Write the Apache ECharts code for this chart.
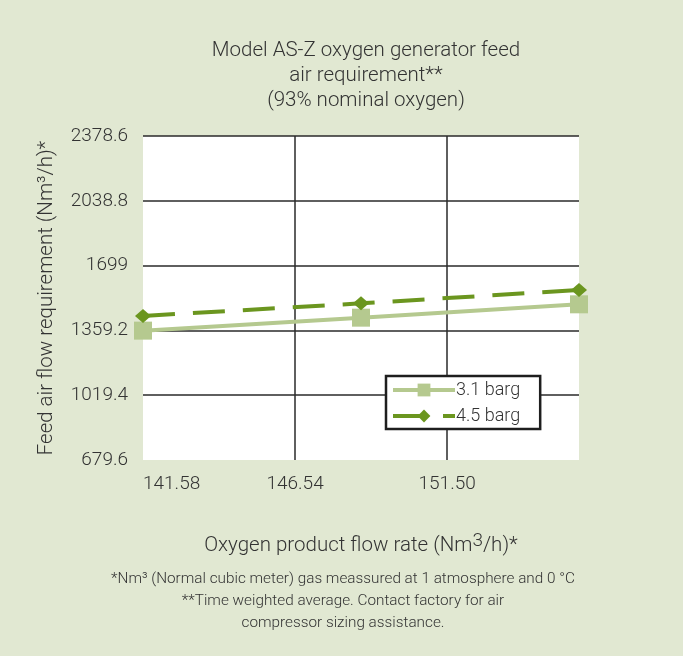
<!DOCTYPE html>
<html>
<head>
<meta charset="utf-8">
<script src="https://cdn.jsdelivr.net/npm/echarts@6/dist/echarts.min.js"></script>
<style>
html,body{margin:0;padding:0;background:#e1e8d2;}
#c{width:683px;height:656px;}
</style>
</head>
<body>
<div id="c"></div>
<script>
// Data
const seriesNames = ['3.1 barg', '4.5 barg'];
const oxygenFlow = [141.58, 148.69, 155.8];
const feedAir31 = [1358, 1426, 1496];
const feedAir45 = [1435, 1501, 1571];
const xTickStart = 141.58, xTickStep = 4.96, xMax = 155.8;
const yTickStart = 679.6, yTickStep = 339.8, yMax = 2378.6;

const FONT = 'Roboto';
const W = 300;
const TXT = '#333';
const chart = echarts.init(document.getElementById('c'));
chart.setOption({
  backgroundColor: '#e1e8d2',
  animation: false,
  textStyle: {fontFamily: FONT, fontWeight: W},
  title: [{
    text: 'Model AS-Z oxygen generator feed\nair requirement**\n(93% nominal oxygen)',
    left: 361, top: 33, textAlign: 'center',
    textStyle: {fontFamily: FONT, fontWeight: W, fontSize: 20.5, lineHeight: 25, color: TXT}
  }, {
    text: '*Nm³ (Normal cubic meter) gas meassured at 1 atmosphere and 0 °C\n**Time weighted average. Contact factory for air\ncompressor sizing assistance.',
    left: 338, top: 563, textAlign: 'center',
    textStyle: {fontFamily: FONT, fontWeight: W, fontSize: 15.3, lineHeight: 22, color: TXT}
  }],
  grid: {left: 143, top: 136, width: 436, height: 324, show: true, backgroundColor: '#ffffff', borderWidth: 0},
  legend: {
    left: 386, top: 376, orient: 'vertical',
    backgroundColor: '#ffffff', borderColor: '#1e1e1e', borderWidth: 2.5, borderRadius: 0,
    padding: [5, 20, 4, 5], itemWidth: 62, itemHeight: 16, itemGap: 8,
    lineStyle: {width: 4},
    textStyle: {fontFamily: FONT, fontWeight: W, fontSize: 18, color: TXT, padding: [0, 0, 0, -4]},
    data: seriesNames
  },
  xAxis: {
    type: 'value', min: xTickStart, max: xMax, interval: xTickStep,
    name: 'Oxygen product flow rate (Nm{s|3}/h)*', nameLocation: 'middle', nameGap: 72,
    nameTextStyle: {fontFamily: FONT, fontWeight: W, fontSize: 20.5, color: TXT,
      rich: {s: {fontFamily: FONT, fontWeight: W, fontSize: 19, color: TXT, padding: [0, 0, 8, 0]}}},
    axisLine: {show: false}, axisTick: {show: false},
    axisLabel: {fontFamily: FONT, fontWeight: W, fontSize: 19, color: TXT, margin: 15, showMaxLabel: false,
      alignMinLabel: 'left', formatter: v => v.toFixed(2)},
    splitLine: {show: true, showMinLine: false, showMaxLine: false, lineStyle: {color: '#2a2a2a', width: 1.5}}
  },
  yAxis: {
    type: 'value', min: yTickStart, max: yMax, interval: yTickStep,
    name: 'Feed air flow requirement (Nm³/h)*', nameLocation: 'middle', nameGap: 86, nameRotate: 90,
    nameTextStyle: {fontFamily: FONT, fontWeight: W, fontSize: 20.5, color: TXT},
    axisLine: {show: false}, axisTick: {show: false},
    axisLabel: {fontFamily: FONT, fontWeight: W, fontSize: 19, color: TXT, margin: 15,
      formatter: v => String(+(+v).toFixed(1))},
    splitLine: {show: true, showMinLine: false, lineStyle: {color: '#2a2a2a', width: 1.5}}
  },
  series: [{
    name: seriesNames[0], type: 'line',
    data: oxygenFlow.map((x, i) => [x, feedAir31[i]]),
    symbol: 'rect', symbolSize: 18,
    lineStyle: {color: '#b5c98f', width: 4},
    itemStyle: {color: '#b5c98f'}
  }, {
    name: seriesNames[1], type: 'line',
    data: oxygenFlow.map((x, i) => [x, feedAir45[i]]),
    symbol: 'diamond', symbolSize: [16, 14],
    lineStyle: {color: '#6b961f', width: 4, type: [32, 18]},
    itemStyle: {color: '#6b961f'}
  }]
});
</script>
</body>
</html>
